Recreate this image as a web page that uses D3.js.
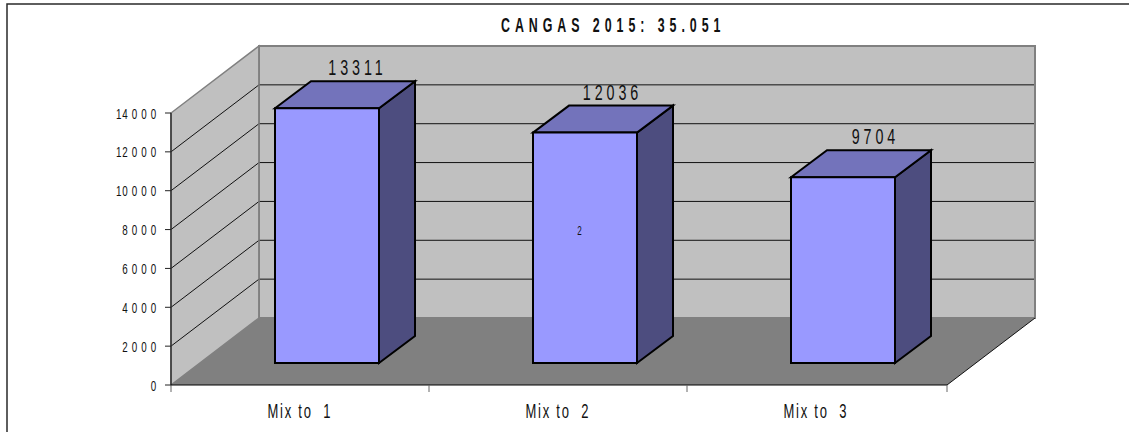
<!DOCTYPE html>
<html><head><meta charset="utf-8">
<script src="https://cdn.jsdelivr.net/npm/d3@7"></script>
<style>html,body{margin:0;padding:0;background:#fff;overflow:hidden}svg{display:block}text{font-family:"Liberation Sans",Arial,sans-serif;fill:#111;white-space:pre}</style>
</head><body><svg id="c" width="1129" height="432"></svg>
<script>
const titleText = "CANGAS 2015: 35.051";
const categories = ["Mix to  1", "Mix to  2", "Mix to  3"];
const values = [13311, 12036, 9704];
const yTicks = [0, 2000, 4000, 6000, 8000, 10000, 12000, 14000];
const tickLabels = ["0", "2 0 0 0", "4 0 0 0", "6 0 0 0", "8 0 0 0", "10 0 0 0", "12 0 0 0", "14 0 0 0"];
const stray = "2";

const svg = d3.select("#c");
const X0 = 171, X1 = 947, Y0 = 385, Y1 = 113, DX = 88, DY = -67, BDX = 36, BDY = -27;
const x = d3.scaleBand().domain(categories).range([X0, X0 + 774]);
const y = d3.scaleLinear().domain([0, 14000]).range([Y0, Y1]);
const barBase = 363, barW = 104, barInset = 104;
const yBar = d3.scaleLinear().domain([0, 14000]).range([barBase, barBase - 268]);
const labelNudge = [-0.5, -3.5, 1.5];
const line = d3.line();
const poly = (pts, fill, stroke, sw) => svg.append("path").attr("d", line(pts) + "Z")
  .attr("fill", fill).attr("stroke", stroke || "none").attr("stroke-width", sw || 0).attr("stroke-linejoin", "miter");
function label(str, px, py, size, sx, ls, anchor, weight) {
  const ax = anchor === "middle" ? px + ls * sx / 2 : px;
  return svg.append("text").attr("x", 0).attr("y", 0)
    .attr("transform", `translate(${ax},${py}) scale(${sx},1)`)
    .attr("text-anchor", anchor).attr("font-size", size)
    .attr("font-weight", weight || "normal").attr("letter-spacing", ls).text(str);
}

svg.append("rect").attr("x", 7).attr("y", 4).attr("width", 1140).attr("height", 440)
  .attr("fill", "#fff").attr("stroke", "#2a2a2a").attr("stroke-width", 1.5);

// walls and floor
poly([[X0 + DX, Y1 + DY], [X1 + DX, Y1 + DY], [X1 + DX, Y0 + DY], [X0 + DX, Y0 + DY]], "#c0c0c0", "#808080", 2);
poly([[X0, Y0], [X0, Y1], [X0 + DX, Y1 + DY], [X0 + DX, Y0 + DY]], "#c0c0c0", "#808080", 1.5);
poly([[X0, Y0], [X1, Y0], [X1 + DX, Y0 + DY], [X0 + DX, Y0 + DY]], "#808080");

// gridlines
yTicks.filter(t => t > 0 && t < 14000).forEach(t => {
  const p = y(t);
  svg.append("path").attr("d", line([[X0, p], [X0 + DX, p + DY], [X1 + DX - 1, p + DY]]))
    .attr("fill", "none").attr("stroke", "#111").attr("stroke-width", 1);
});
svg.append("path").attr("d", line([[X0 + DX, Y1 + DY], [X0 + DX, Y0 + DY]])).attr("stroke", "#808080").attr("stroke-width", 1.5);
svg.append("path").attr("d", line([[X1 + DX, Y0 + DY], [X1, Y0]])).attr("stroke", "#111").attr("stroke-width", 1);

// axes
svg.append("path").attr("d", line([[X0, Y1], [X0, Y0]])).attr("stroke", "#333").attr("stroke-width", 1.5);
svg.append("path").attr("d", line([[X0, Y0], [X1, Y0]])).attr("stroke", "#000").attr("stroke-width", 1.2);
yTicks.forEach((t, i) => {
  svg.append("path").attr("d", line([[X0 - 6, y(t)], [X0, y(t)]])).attr("stroke", "#222").attr("stroke-width", 1);
  label(tickLabels[i], X0 - 14, y(t) + 5.5, 14, 0.7, 1, "end");
});
[...categories.map(c => x(c)), X1].forEach(p =>
  svg.append("path").attr("d", line([[p, Y0], [p, Y0 + 7]])).attr("stroke", "#666").attr("stroke-width", 1));

// bars
categories.forEach((c, i) => {
  const l = x(c) + barInset, r = l + barW, t = yBar(values[i]);
  poly([[r, barBase], [r + BDX, barBase + BDY], [r + BDX, t + BDY], [r, t]], "#4d4d7f", "#000", 2);
  poly([[l, t], [l + BDX, t + BDY], [r + BDX, t + BDY], [r, t]], "#7373bb", "#000", 2);
  poly([[l, barBase], [l, t], [r, t], [r, barBase]], "#9999ff", "#000", 2);
  label(String(values[i]), l + 81 + labelNudge[i], t + BDY - 6, 22, 0.65, 6, "middle");
  label(c, x(c) + x.bandwidth() / 2 - 1, 418, 20, 0.65, 2.7, "middle");
});
label(stray, x(categories[1]) + barInset + 46.5, 235, 13, 0.62, 0, "middle");

label(titleText, 501, 32, 20, 0.62, 8, "start", "bold");
</script></body></html>
